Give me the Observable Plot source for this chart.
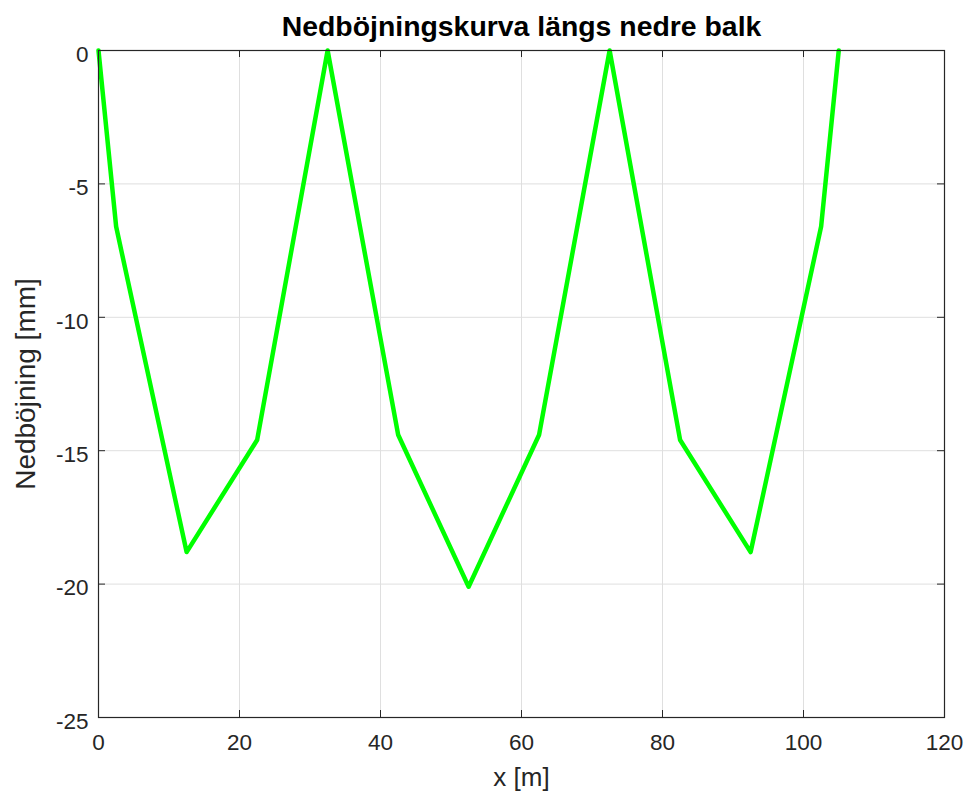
<!DOCTYPE html>
<html>
<head>
<meta charset="utf-8">
<script src="https://cdn.jsdelivr.net/npm/d3@7"></script>
<script src="https://cdn.jsdelivr.net/npm/@observablehq/plot@0.6"></script>
<style>
  html, body { margin: 0; padding: 0; background: #fff; }
  #chart svg { display: block; }
</style>
</head>
<body>
<div id="chart"></div>
<script>
// Data
const xPos = [0, 2.5, 12.5, 22.5, 32.5, 42.5, 52.5, 62.5, 72.5, 82.5, 92.5, 102.5, 105];
const deflection = [0, -6.6, -18.8, -14.6, 0, -14.4, -20.1, -14.4, 0, -14.6, -18.8, -6.6, 0];
const xTicks = [0, 20, 40, 60, 80, 100, 120];
const yTicks = [-25, -20, -15, -10, -5, 0];
const titleText = "Nedböjningskurva längs nedre balk";
const xLabel = "x [m]";
const yLabel = "Nedböjning [mm]";

const data = xPos.map((x, i) => ({x, y: deflection[i]}));

const W = 969, H = 805;
const mL = 98, mR = 25, mT = 50, mB = 88;
const fw = W - mL - mR, fh = H - mT - mB;
const tl = 7;
const ink = "#262626";
const gridC = "#dfdfdf";

const chart = Plot.plot({
  width: W,
  height: H,
  marginLeft: mL,
  marginRight: mR,
  marginTop: mT,
  marginBottom: mB,
  style: {fontFamily: "'Liberation Sans', Arial, sans-serif", color: ink, background: "#fff"},
  x: {domain: [0, 120]},
  y: {domain: [-25, 0]},
  marks: [
    Plot.gridX(xTicks, {stroke: gridC, strokeOpacity: 1}),
    Plot.gridY(yTicks, {stroke: gridC, strokeOpacity: 1}),
    Plot.line(data, {x: "x", y: "y", stroke: "#00ff00", strokeWidth: 4.5, strokeLinejoin: "round"}),
    Plot.frame({stroke: ink, strokeWidth: 1.2}),
    // inward tick marks on all four sides
    Plot.tickX(xTicks, {x: d => d, insetTop: fh - tl, stroke: ink}),
    Plot.tickX(xTicks, {x: d => d, insetBottom: fh - tl, stroke: ink}),
    Plot.tickY(yTicks, {y: d => d, insetRight: fw - tl, stroke: ink}),
    Plot.tickY(yTicks, {y: d => d, insetLeft: fw - tl, stroke: ink}),
    Plot.axisX(xTicks, {tickSize: 0, tickPadding: 17, fontSize: 22.5, label: null, tickFormat: d => String(d), fill: ink}),
    Plot.axisY(yTicks, {tickSize: 0, tickPadding: 10, fontSize: 22.5, label: null, tickFormat: d => String(d), dy: 4, fill: ink}),
    Plot.text([xLabel], {text: d => d, frameAnchor: "bottom", lineAnchor: "middle", dy: 60, fontSize: 26, fill: ink}),
    Plot.text([yLabel], {text: d => d, frameAnchor: "left", textAnchor: "middle", lineAnchor: "middle", rotate: -90, dx: -72, fontSize: 28, fill: ink}),
    Plot.text([titleText], {text: d => d, frameAnchor: "top", lineAnchor: "middle", dy: -24, fontSize: 28.4, fontWeight: "bold", fill: "#000"})
  ]
});
document.getElementById("chart").appendChild(chart);
</script>
</body>
</html>
